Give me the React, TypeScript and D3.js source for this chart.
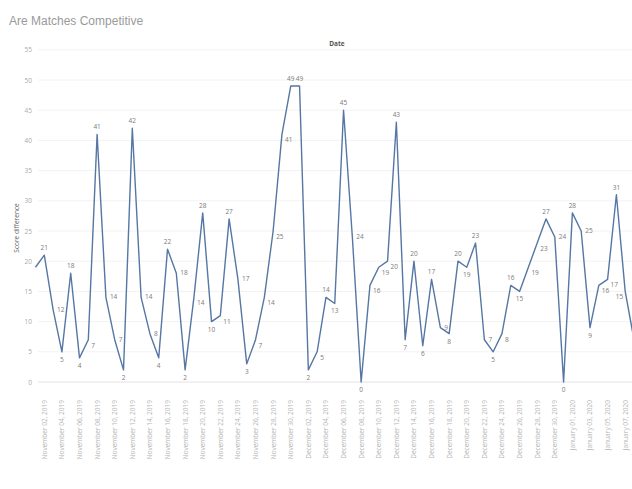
import React from "react";
import * as d3 from "d3";

const title = "Are Matches Competitive";
const headerLabel = "Date";
const yAxisTitle = "Score difference";

const dates = [
  "2019-11-01","2019-11-02","2019-11-03","2019-11-04","2019-11-05","2019-11-06","2019-11-07","2019-11-08","2019-11-09","2019-11-10",
  "2019-11-11","2019-11-12","2019-11-13","2019-11-14","2019-11-15","2019-11-16","2019-11-17","2019-11-18","2019-11-19","2019-11-20",
  "2019-11-21","2019-11-22","2019-11-23","2019-11-24","2019-11-25","2019-11-26","2019-11-27","2019-11-28","2019-11-29","2019-11-30",
  "2019-12-01","2019-12-02","2019-12-03","2019-12-04","2019-12-05","2019-12-06","2019-12-07","2019-12-08","2019-12-09","2019-12-10",
  "2019-12-11","2019-12-12","2019-12-13","2019-12-14","2019-12-15","2019-12-16","2019-12-17","2019-12-18","2019-12-19","2019-12-20",
  "2019-12-21","2019-12-22","2019-12-23","2019-12-24","2019-12-25","2019-12-26","2019-12-27","2019-12-28","2019-12-29","2019-12-30",
  "2019-12-31","2020-01-01","2020-01-02","2020-01-03","2020-01-04","2020-01-05","2020-01-06","2020-01-07","2020-01-08"
];

const scoreDiff = [
  19, 21, 12, 5, 18, 4, 7, 41, 14, 7,
  2, 42, 14, 8, 4, 22, 18, 2, 14, 28,
  10, 11, 27, 17, 3, 7, 14, 25, 41, 49,
  49, 2, 5, 14, 13, 45, 24, 0, 16, 19,
  20, 43, 7, 20, 6, 17, 9, 8, 20, 19,
  23, 7, 5, 8, 16, 15, 19, 23, 27, 24,
  0, 28, 25, 9, 16, 17, 31, 15, 7
];

const yTicks = [0, 5, 10, 15, 20, 25, 30, 35, 40, 45, 50, 55];

const W = 632;
const H = 489;

export default function App() {
  const idx = scoreDiff.map((_, i) => i);
  const x = d3.scaleLinear().domain([0, scoreDiff.length - 1]).range([35.5, 634]);
  const y = d3.scaleLinear().domain([0, 55]).range([382, 49.8]);
  const line = d3.line<number>().x((d, i) => x(i)).y((d) => y(d));
  const parse = d3.timeParse("%Y-%m-%d");
  const fmt = d3.timeFormat("%B %d, %Y");
  const font = "'Open Sans', 'Liberation Sans', Arial, sans-serif";

  const labelPos = (i: number) => {
    const v = scoreDiff[i];
    const p = i > 0 ? scoreDiff[i - 1] : v;
    const n = i < scoreDiff.length - 1 ? scoreDiff[i + 1] : v;
    const px = x(i);
    const py = y(v);
    if (v >= p && v >= n) return { x: px, y: py - 5, anchor: "middle" };
    if (v <= p && v <= n) return { x: px, y: py + 10, anchor: "middle" };
    if (n > p) return { x: px + 3, y: py + 8, anchor: "start" };
    if (px + 14 > W) return { x: px - 2, y: py + 8, anchor: "end" };
    return { x: px + 4, y: py + 2, anchor: "start" };
  };

  return (
    <svg
      width={W}
      height={H}
      style={{ position: "absolute", left: 0, top: 0, background: "#fff" }}
    >
      <defs>
        <clipPath id="plotclip">
          <rect x={34} y={40} width={W - 34} height={360} />
        </clipPath>
      </defs>
      <text x={9} y={25} fontFamily="'Liberation Sans', Arial, sans-serif" fontSize={12} fill="#9a9a9a">
        {title}
      </text>
      <text x={337} y={46} fontFamily={font} fontSize={6.5} fill="#555" textAnchor="middle" fontWeight="bold">
        {headerLabel}
      </text>
      {yTicks.map((t) => (
        <g key={t}>
          <line x1={38} x2={W} y1={y(t)} y2={y(t)} stroke={t === 0 ? "#e2e2e2" : "#f2f2f2"} strokeWidth={1} />
          <text x={32} y={y(t) + 2.5} fontFamily={font} fontSize={6.5} fill="#aaa" textAnchor="end">
            {t}
          </text>
        </g>
      ))}
      <text
        transform={`translate(19,228) rotate(-90)`}
        fontFamily={font}
        fontSize={6.5}
        fill="#666"
        textAnchor="middle"
      >
        {yAxisTitle}
      </text>
      <g clipPath="url(#plotclip)">
        <path d={line(scoreDiff) || ""} fill="none" stroke="#5676a4" strokeWidth={1.4} strokeLinejoin="round" />
      </g>
      {idx.map((i) => {
        if (i === 0 || i === scoreDiff.length - 1) return null;
        const p = labelPos(i);
        return (
          <text key={i} x={p.x} y={p.y} fontFamily={font} fontSize={6.5} fill="#7a7a7a" textAnchor={p.anchor}>
            {scoreDiff[i]}
          </text>
        );
      })}
      {idx.filter((i) => i % 2 === 1).map((i) => (
        <text
          key={"d" + i}
          transform={`translate(${x(i) + 2.5},400) rotate(-90)`}
          fontFamily={font}
          fontSize={6.5}
          fill="#b5b5b5"
          textAnchor="end"
        >
          {fmt(parse(dates[i]) as Date)}
        </text>
      ))}
    </svg>
  );
}
